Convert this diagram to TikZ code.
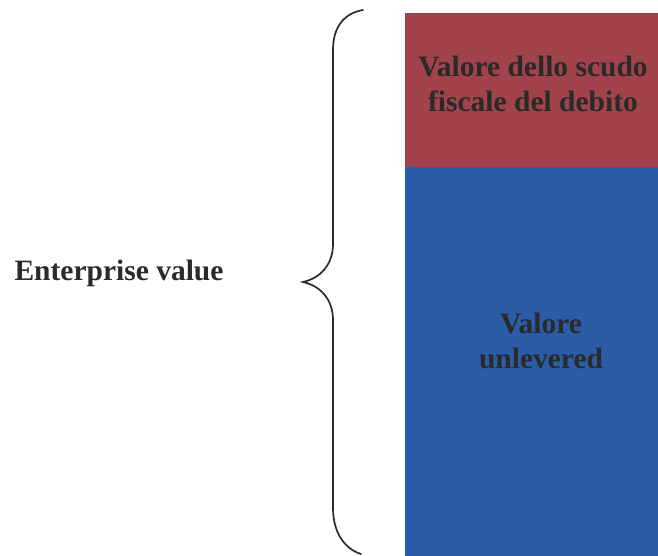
\documentclass[tikz,border=0pt]{standalone}
\usepackage{fontspec}
\setmainfont{Liberation Serif}
\usepackage{xcolor}
\usepackage{tikz}
\usetikzlibrary{positioning}
\definecolor{scudored}{HTML}{A2424A}
\definecolor{unlevblue}{HTML}{2A5CA8}
\definecolor{inkdark}{HTML}{2A2A2A}

\begin{document}
\begin{tikzpicture}[x=1pt, y=-1pt]
    % Styles
    \tikzset{
        valbox/.style = {rectangle, inner sep=0pt, anchor=north west, minimum width=253pt},
        valtext/.style = {text=inkdark, font=\fontsize{29.5}{35}\selectfont\bfseries, align=center},
        bracket/.style = {draw=inkdark, line width=1.7pt, line cap=round}
    }
    \useasboundingbox (0,0) rectangle (658,555);

    % Boxes
    \node [valbox, fill=scudored, minimum height=154pt] (scudo) at (405,13) {};
    \node [valbox, fill=unlevblue, minimum height=390pt, below=-1pt of scudo] (unlev) {};

    % Texts
    \node [valtext] (scudotxt) at (533,84) {Valore dello scudo\\fiscale del debito};
    \node [valtext] (unlevtxt) at (541,341) {Valore\\unlevered};
    \node [valtext, text=inkdark] (ev) at (119,273) {Enterprise value};

    % Brace
    \path [bracket] (363,10) .. controls (345,13) and (333,26) .. (333,50)
        -- (333,244) .. controls (333,264) and (321,278) .. (303,282)
        .. controls (321,286) and (333,300) .. (333,320)
        -- (333,508) .. controls (333,533) and (345,549) .. (361,554);
\end{tikzpicture}
\end{document}
